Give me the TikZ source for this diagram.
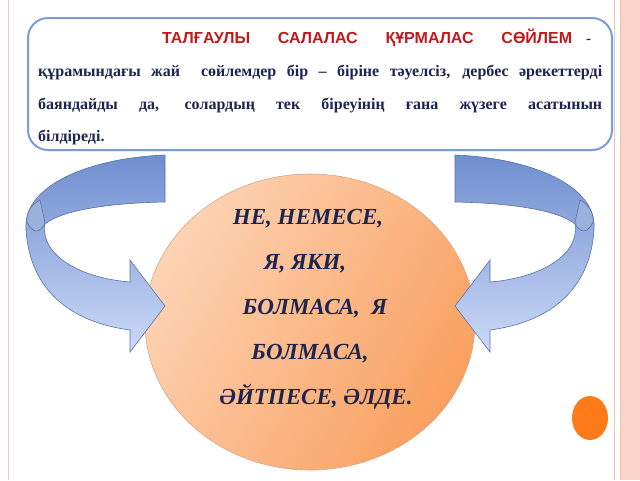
\documentclass[tikz,border=0pt]{standalone}
\usepackage{fontspec}
\setmainfont{Liberation Serif}
\newfontfamily\titlefont{Liberation Sans}
\definecolor{navy}{HTML}{1B2550}
\definecolor{tred}{HTML}{C01A1E}
\definecolor{boxblue}{HTML}{7C9CD8}
\definecolor{arrdark}{HTML}{6F8ECF}
\definecolor{arrlight}{HTML}{CCDAF7}
\definecolor{orlight}{HTML}{FDD3B4}
\definecolor{ordark}{HTML}{F9A060}
\definecolor{pinkline}{HTML}{F6C2B2}
\begin{document}
\begin{tikzpicture}[x=1pt,y=-1pt,
  bodyline/.style={anchor=base west,inner sep=0pt,text=navy,font=\bfseries\fontsize{16}{18}\selectfont},
  ctext/.style={text=navy,font=\bfseries\itshape\fontsize{23}{26}\selectfont,inner sep=0pt,anchor=base},
  ribbon/.style={top color=arrdark,bottom color=arrlight,draw=arrdark!80!black,line width=0.6pt}]
\useasboundingbox (0,0) rectangle (640,480);
\fill[white] (0,0) rectangle (640,480);
% page frame
\draw[pinkline,line width=1pt] (8,0) -- (8,480);
\draw[pinkline,line width=1pt] (614,0) -- (614,480);
\fill[pinkline!70] (620,0) rectangle (640,480);
\draw[pinkline,line width=1pt] (620,0) -- (620,480);
% top box
\draw[boxblue,line width=2pt,rounded corners=20pt] (28,18) rectangle (612,150);
\node[anchor=base west,inner sep=0pt,text=tred,font=\titlefont\bfseries\fontsize{16}{18}\selectfont] (title) at (162,43) {\makebox[410pt][s]{ТАЛҒАУЛЫ\ \ САЛАЛАС\ \ ҚҰРМАЛАС\ \ СӨЙЛЕМ}};
\node[anchor=base west,inner sep=0pt,text=navy,font=\bfseries\fontsize{15}{17}\selectfont] (dash) at (586,43) {-};
\node[bodyline] (l1) at (38,76) {\makebox[564pt][s]{құрамындағы жай\ \ сөйлемдер бір – біріне тәуелсіз, дербес әрекеттерді}};
\node[bodyline] (l2) at (38,109) {\makebox[564pt][s]{баяндайды да, солардың тек біреуінің ғана жүзеге асатынын}};
\node[bodyline] (l3) at (38,141) {білдіреді.};
% circle
\shade[left color=orlight,right color=ordark,shading angle=60] (310,322) ellipse [x radius=165,y radius=148];
\draw[ordark!80!black!70,line width=0.6pt] (310,322) ellipse [x radius=165,y radius=148];
\node[ctext] (c1) at (308,224) {НЕ, НЕМЕСЕ,};
\node[ctext] (c2) at (305,269) {Я, ЯКИ,};
\node[ctext] (c3) at (315,314) {БОЛМАСА,\ \ Я};
\node[ctext] (c4) at (310,359) {БОЛМАСА,};
\node[ctext] (c5) at (316,404) {ӘЙТПЕСЕ, ӘЛДЕ.};
% arrows
\foreach \s/\sx in {0/1,620/-1}{
\begin{scope}[shift={(\s,0)},xscale=\sx]
\path[ribbon] (165,155) -- (165,202)
  .. controls (110,203) and (62,210) .. (45,224)
  .. controls (40,255) and (80,278) .. (130,282)
  -- (130,260) -- (165,306) -- (130,352) -- (130,330)
  .. controls (70,322) and (30,290) .. (26,230)
  .. controls (22,185) and (90,158) .. (165,155) -- cycle;
\path[fill=arrdark!70,draw=arrdark!80!black,line width=0.6pt] (45,224) .. controls (38,235) and (32,232) .. (27,222)
  .. controls (26,215) and (30,205) .. (40,200) .. controls (42,210) and (44,216) .. (45,224) -- cycle;
\end{scope}}
% small orange dot
\fill[orange!85!red!90] (590,418) ellipse [x radius=18,y radius=22];
\end{tikzpicture}
\end{document}
